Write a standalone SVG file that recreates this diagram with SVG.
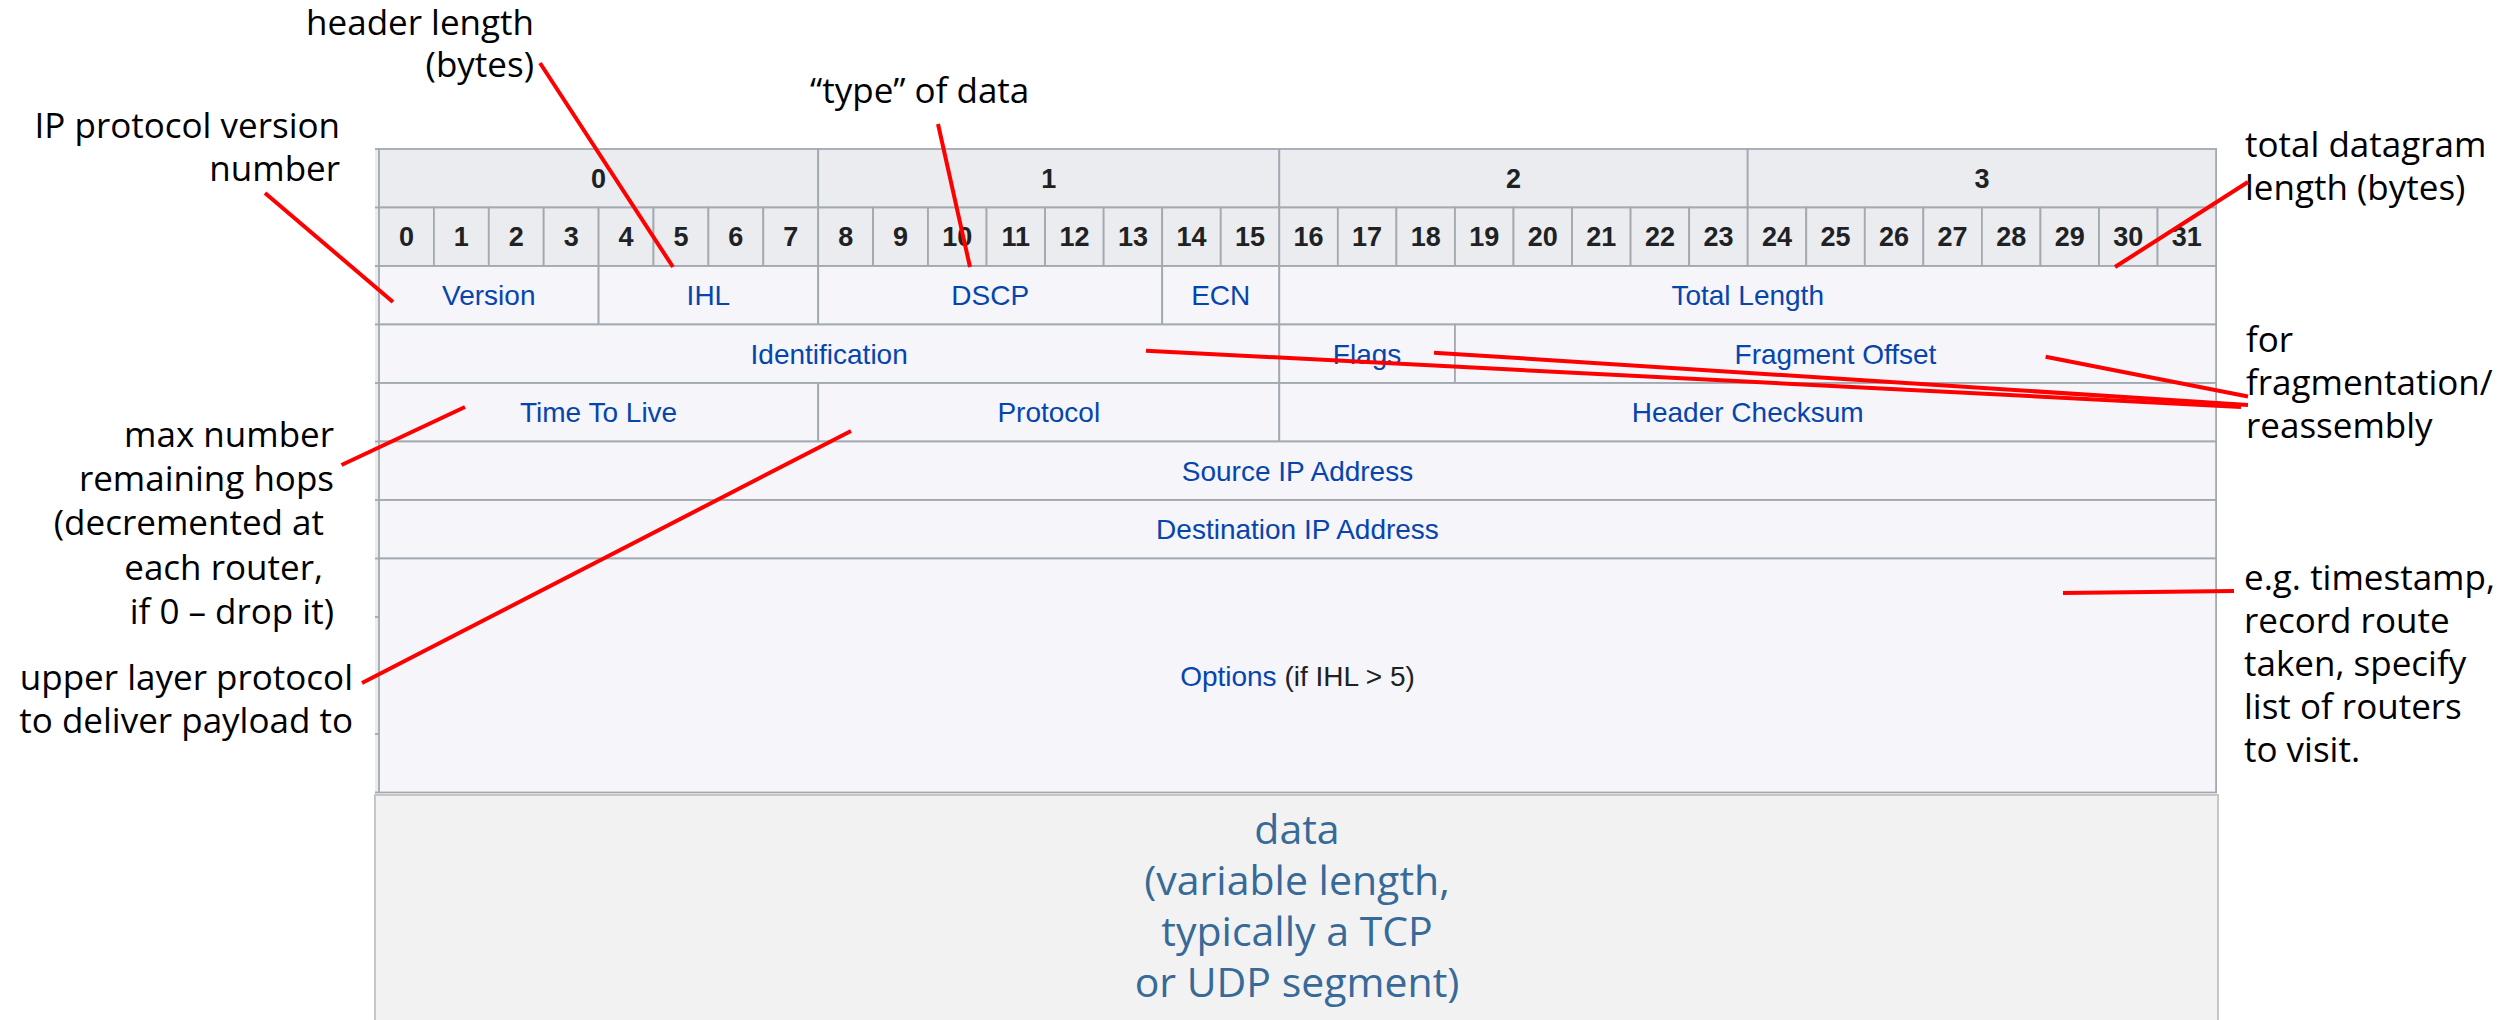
<svg xmlns="http://www.w3.org/2000/svg" width="2506" height="1020" viewBox="0 0 2506 1020">
  <style>
    .hdr { fill: #eaecf0; stroke: #a2a9b1; stroke-width: 1.8; }
    .cell { fill: #f5f5fa; stroke: #a2a9b1; stroke-width: 1.8; }
    .num { font-family: "Liberation Sans", Arial, sans-serif; font-weight: bold; font-size: 27px; fill: #202122; text-anchor: middle; }
    .lbl { font-family: "Liberation Sans", Arial, sans-serif; font-size: 28px; fill: #0645ad; text-anchor: middle; }
    .plain { fill: #202122; }
    .note { font-family: "Open Sans", "Noto Sans", sans-serif; font-size: 35px; fill: #000000; }
    .end { text-anchor: end; }
    .data { font-family: "Open Sans", "Noto Sans", sans-serif; font-size: 41px; fill: #376a98; text-anchor: middle; }
    .tick { stroke: #a2a9b1; stroke-width: 1.8; }
    .conn line { stroke: #ff0000; stroke-width: 4; stroke-linecap: butt; }
  </style>

  <rect x="0" y="0" width="2506" height="1020" fill="#ffffff"/>

  <!-- payload box below the header -->
  <g id="payload">
    <rect x="375" y="795" width="1843" height="240" fill="#f2f2f2" stroke="#c6c6c6" stroke-width="2"/>
    <text class="data" x="1297" y="844">data</text>
    <text class="data" x="1297" y="895">(variable length,</text>
    <text class="data" x="1297" y="946">typically a TCP</text>
    <text class="data" x="1297" y="997">or UDP segment)</text>
  </g>

  <!-- narrow offset column at the left edge of the table -->
  <g id="offset-column">
    <rect x="375" y="149" width="4" height="643.5" fill="#eaecf0"/>
    <line class="tick" x1="375" y1="149" x2="379" y2="149"/>
    <line class="tick" x1="375" y1="207.5" x2="379" y2="207.5"/>
    <line class="tick" x1="375" y1="266" x2="379" y2="266"/>
    <line class="tick" x1="375" y1="324.5" x2="379" y2="324.5"/>
    <line class="tick" x1="375" y1="383" x2="379" y2="383"/>
    <line class="tick" x1="375" y1="441.5" x2="379" y2="441.5"/>
    <line class="tick" x1="375" y1="500" x2="379" y2="500"/>
    <line class="tick" x1="375" y1="558.5" x2="379" y2="558.5"/>
    <line class="tick" x1="375" y1="617" x2="379" y2="617"/>
    <line class="tick" x1="375" y1="675.5" x2="379" y2="675.5"/>
    <line class="tick" x1="375" y1="734" x2="379" y2="734"/>
    <line class="tick" x1="375" y1="792.5" x2="379" y2="792.5"/>
  </g>

  <!-- octet header row -->
  <g id="octets">
    <rect class="hdr" x="379" y="149" width="439.2" height="58.5"/>
    <rect class="hdr" x="818.2" y="149" width="461.1" height="58.5"/>
    <rect class="hdr" x="1279.3" y="149" width="468.4" height="58.5"/>
    <rect class="hdr" x="1747.7" y="149" width="468.4" height="58.5"/>
    <text class="num" x="598.6" y="188">0</text>
    <text class="num" x="1048.75" y="188">1</text>
    <text class="num" x="1513.5" y="188">2</text>
    <text class="num" x="1981.9" y="188">3</text>
  </g>

  <!-- bit index row -->
  <g id="bits">
    <rect class="hdr" x="379" y="207.5" width="54.9" height="58.5"/>
    <rect class="hdr" x="433.9" y="207.5" width="54.9" height="58.5"/>
    <rect class="hdr" x="488.8" y="207.5" width="54.9" height="58.5"/>
    <rect class="hdr" x="543.7" y="207.5" width="54.9" height="58.5"/>
    <rect class="hdr" x="598.6" y="207.5" width="54.9" height="58.5"/>
    <rect class="hdr" x="653.5" y="207.5" width="54.9" height="58.5"/>
    <rect class="hdr" x="708.4" y="207.5" width="54.9" height="58.5"/>
    <rect class="hdr" x="763.3" y="207.5" width="54.9" height="58.5"/>
    <rect class="hdr" x="818.2" y="207.5" width="54.9" height="58.5"/>
    <rect class="hdr" x="873.1" y="207.5" width="54.9" height="58.5"/>
    <rect class="hdr" x="928" y="207.5" width="58.55" height="58.5"/>
    <rect class="hdr" x="986.55" y="207.5" width="58.55" height="58.5"/>
    <rect class="hdr" x="1045.1" y="207.5" width="58.55" height="58.5"/>
    <rect class="hdr" x="1103.65" y="207.5" width="58.55" height="58.5"/>
    <rect class="hdr" x="1162.2" y="207.5" width="58.55" height="58.5"/>
    <rect class="hdr" x="1220.75" y="207.5" width="58.55" height="58.5"/>
    <rect class="hdr" x="1279.3" y="207.5" width="58.55" height="58.5"/>
    <rect class="hdr" x="1337.85" y="207.5" width="58.55" height="58.5"/>
    <rect class="hdr" x="1396.4" y="207.5" width="58.55" height="58.5"/>
    <rect class="hdr" x="1454.95" y="207.5" width="58.55" height="58.5"/>
    <rect class="hdr" x="1513.5" y="207.5" width="58.55" height="58.5"/>
    <rect class="hdr" x="1572.05" y="207.5" width="58.55" height="58.5"/>
    <rect class="hdr" x="1630.6" y="207.5" width="58.55" height="58.5"/>
    <rect class="hdr" x="1689.15" y="207.5" width="58.55" height="58.5"/>
    <rect class="hdr" x="1747.7" y="207.5" width="58.55" height="58.5"/>
    <rect class="hdr" x="1806.25" y="207.5" width="58.55" height="58.5"/>
    <rect class="hdr" x="1864.8" y="207.5" width="58.55" height="58.5"/>
    <rect class="hdr" x="1923.35" y="207.5" width="58.55" height="58.5"/>
    <rect class="hdr" x="1981.9" y="207.5" width="58.55" height="58.5"/>
    <rect class="hdr" x="2040.45" y="207.5" width="58.55" height="58.5"/>
    <rect class="hdr" x="2099" y="207.5" width="58.55" height="58.5"/>
    <rect class="hdr" x="2157.55" y="207.5" width="58.55" height="58.5"/>
    <text class="num" x="406.45" y="246">0</text>
    <text class="num" x="461.35" y="246">1</text>
    <text class="num" x="516.25" y="246">2</text>
    <text class="num" x="571.15" y="246">3</text>
    <text class="num" x="626.05" y="246">4</text>
    <text class="num" x="680.95" y="246">5</text>
    <text class="num" x="735.85" y="246">6</text>
    <text class="num" x="790.75" y="246">7</text>
    <text class="num" x="845.65" y="246">8</text>
    <text class="num" x="900.55" y="246">9</text>
    <text class="num" x="957.3" y="246">10</text>
    <text class="num" x="1015.8" y="246">11</text>
    <text class="num" x="1074.4" y="246">12</text>
    <text class="num" x="1132.9" y="246">13</text>
    <text class="num" x="1191.5" y="246">14</text>
    <text class="num" x="1250" y="246">15</text>
    <text class="num" x="1308.6" y="246">16</text>
    <text class="num" x="1367.1" y="246">17</text>
    <text class="num" x="1425.7" y="246">18</text>
    <text class="num" x="1484.2" y="246">19</text>
    <text class="num" x="1542.8" y="246">20</text>
    <text class="num" x="1601.3" y="246">21</text>
    <text class="num" x="1659.9" y="246">22</text>
    <text class="num" x="1718.4" y="246">23</text>
    <text class="num" x="1777" y="246">24</text>
    <text class="num" x="1835.5" y="246">25</text>
    <text class="num" x="1894.1" y="246">26</text>
    <text class="num" x="1952.6" y="246">27</text>
    <text class="num" x="2011.2" y="246">28</text>
    <text class="num" x="2069.7" y="246">29</text>
    <text class="num" x="2128.3" y="246">30</text>
    <text class="num" x="2186.8" y="246">31</text>
  </g>

  <!-- header fields -->
  <g id="version">
    <rect class="cell" x="379" y="266" width="219.6" height="58.5"/>
    <text class="lbl" x="488.8" y="305">Version</text>
  </g>
  <g id="ihl">
    <rect class="cell" x="598.6" y="266" width="219.6" height="58.5"/>
    <text class="lbl" x="708.4" y="305">IHL</text>
  </g>
  <g id="dscp">
    <rect class="cell" x="818.2" y="266" width="344" height="58.5"/>
    <text class="lbl" x="990.2" y="305">DSCP</text>
  </g>
  <g id="ecn">
    <rect class="cell" x="1162.2" y="266" width="117.1" height="58.5"/>
    <text class="lbl" x="1220.75" y="305">ECN</text>
  </g>
  <g id="total-length">
    <rect class="cell" x="1279.3" y="266" width="936.8" height="58.5"/>
    <text class="lbl" x="1747.7" y="305">Total Length</text>
  </g>

  <g id="identification">
    <rect class="cell" x="379" y="324.5" width="900.3" height="58.5"/>
    <text class="lbl" x="829.15" y="363.5">Identification</text>
  </g>
  <g id="flags">
    <rect class="cell" x="1279.3" y="324.5" width="175.65" height="58.5"/>
    <text class="lbl" x="1367.1" y="363.5">Flags</text>
  </g>
  <g id="fragment-offset">
    <rect class="cell" x="1454.95" y="324.5" width="761.15" height="58.5"/>
    <text class="lbl" x="1835.5" y="363.5">Fragment Offset</text>
  </g>

  <g id="ttl">
    <rect class="cell" x="379" y="383" width="439.2" height="58.5"/>
    <text class="lbl" x="598.6" y="422">Time To Live</text>
  </g>
  <g id="protocol">
    <rect class="cell" x="818.2" y="383" width="461.1" height="58.5"/>
    <text class="lbl" x="1048.75" y="422">Protocol</text>
  </g>
  <g id="header-checksum">
    <rect class="cell" x="1279.3" y="383" width="936.8" height="58.5"/>
    <text class="lbl" x="1747.7" y="422">Header Checksum</text>
  </g>

  <g id="source-ip">
    <rect class="cell" x="379" y="441.5" width="1837.1" height="58.5"/>
    <text class="lbl" x="1297.5" y="480.5">Source IP Address</text>
  </g>
  <g id="destination-ip">
    <rect class="cell" x="379" y="500" width="1837.1" height="58.5"/>
    <text class="lbl" x="1297.5" y="539">Destination IP Address</text>
  </g>
  <g id="options">
    <rect class="cell" x="379" y="558.5" width="1837.1" height="234"/>
    <text class="lbl" x="1297.5" y="685.5">Options<tspan class="plain"> (if IHL &gt; 5)</tspan></text>
  </g>

  <!-- annotations -->
  <g id="note-version">
    <text class="note end" x="340" y="138">IP protocol version</text>
    <text class="note end" x="340" y="181">number</text>
  </g>
  <g id="note-ihl">
    <text class="note end" x="534" y="35">header length</text>
    <text class="note end" x="534" y="77">(bytes)</text>
  </g>
  <g id="note-dscp">
    <text class="note" x="810" y="103">“type” of data</text>
  </g>
  <g id="note-length">
    <text class="note" x="2245" y="157">total datagram</text>
    <text class="note" x="2245" y="200">length (bytes)</text>
  </g>
  <g id="note-fragment">
    <text class="note" x="2246" y="352">for</text>
    <text class="note" x="2246" y="395">fragmentation/</text>
    <text class="note" x="2246" y="438">reassembly</text>
  </g>
  <g id="note-ttl">
    <text class="note end" x="334" y="447">max number</text>
    <text class="note end" x="334" y="491">remaining hops</text>
    <text class="note end" x="324" y="535">(decremented at</text>
    <text class="note end" x="323" y="580">each router,</text>
    <text class="note end" x="334" y="624">if 0 – drop it)</text>
  </g>
  <g id="note-protocol">
    <text class="note end" x="353" y="690">upper layer protocol</text>
    <text class="note end" x="353" y="733">to deliver payload to</text>
  </g>
  <g id="note-options">
    <text class="note" x="2244" y="590">e.g. timestamp,</text>
    <text class="note" x="2244" y="633">record route</text>
    <text class="note" x="2244" y="676">taken, specify</text>
    <text class="note" x="2244" y="719">list of routers</text>
    <text class="note" x="2244" y="762">to visit.</text>
  </g>

  <!-- leader lines from notes to fields -->
  <g id="connectors" class="conn">
    <line x1="265" y1="193" x2="393" y2="302"/>
    <line x1="540" y1="63" x2="673" y2="267"/>
    <line x1="938" y1="124" x2="970" y2="267"/>
    <line x1="2248" y1="182" x2="2115" y2="267"/>
    <line x1="1146" y1="350.7" x2="2241" y2="407"/>
    <line x1="1434" y1="352.7" x2="2248" y2="405"/>
    <line x1="2045.6" y1="356.7" x2="2248" y2="396.5"/>
    <line x1="341.5" y1="465" x2="465" y2="407"/>
    <line x1="362" y1="683" x2="851" y2="431"/>
    <line x1="2063" y1="593" x2="2234" y2="591"/>
  </g>
</svg>
